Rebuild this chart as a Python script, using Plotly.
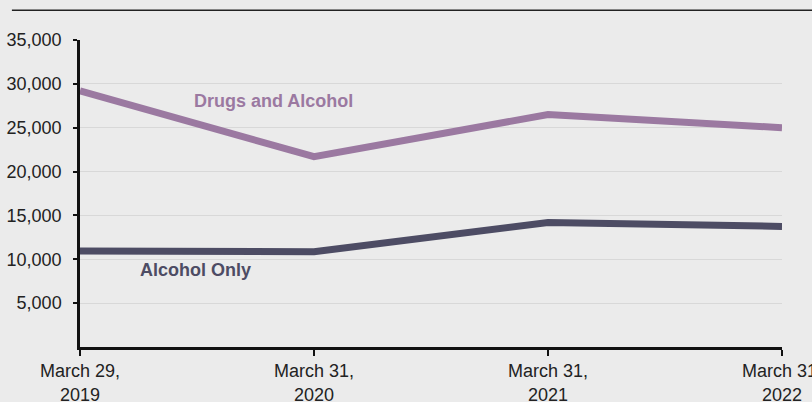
import plotly.graph_objects as go

# Fiscal year-end dates and counts
periods = ["March 29,<br>2019", "March 31,<br>2020", "March 31,<br>2021", "March 31,<br>2022"]
drugs_and_alcohol = [29200, 21700, 26500, 25000]
alcohol_only = [10950, 10850, 14200, 13750]
y_ticks = [5000, 10000, 15000, 20000, 25000, 30000, 35000]

x_idx = list(range(len(periods)))
purple = "#9b79a1"
slate = "#4d4c64"
font_family = "Liberation Sans, Arial, Helvetica"

fig = go.Figure()
fig.add_trace(go.Scatter(x=x_idx, y=drugs_and_alcohol, mode="lines",
                         line=dict(color=purple, width=7), cliponaxis=False,
                         name="Drugs and Alcohol"))
fig.add_trace(go.Scatter(x=x_idx, y=alcohol_only, mode="lines",
                         line=dict(color=slate, width=7), cliponaxis=False,
                         name="Alcohol Only"))

fig.add_annotation(x=0.825, y=28100, text="<b>Drugs and Alcohol</b>", showarrow=False,
                   font=dict(color=purple, size=18, family=font_family))
fig.add_annotation(x=0.495, y=8800, text="<b>Alcohol Only</b>", showarrow=False,
                   font=dict(color=slate, size=18, family=font_family))

# Rule across the top of the panel
fig.add_shape(type="line", xref="paper", yref="paper", x0=-0.097, x1=1.05, y0=1.097, y1=1.097,
              line=dict(color="#222222", width=1.5))

fig.update_layout(
    width=812, height=402,
    margin=dict(l=80, r=30, t=40, b=55, autoexpand=False),
    paper_bgcolor="#ebebeb", plot_bgcolor="#ebebeb",
    showlegend=False,
    font=dict(family=font_family, size=18, color="#222222"),
)
fig.update_xaxes(range=[0, 3], tickvals=x_idx, ticktext=periods, automargin=False,
                 ticklabeloverflow="allow",
                 showline=True, linecolor="#111111", linewidth=2.5,
                 ticks="outside", ticklen=6, tickwidth=2, tickcolor="#111111",
                 showgrid=False, zeroline=False)
fig.update_yaxes(range=[0, 35000], tickvals=y_ticks, automargin=False,
                 ticktext=[f"{v:,}" for v in y_ticks], ticklabelstandoff=8,
                 showline=True, linecolor="#111111", linewidth=2.5,
                 ticks="outside", ticklen=4, tickwidth=2, tickcolor="#111111",
                 showgrid=True, gridcolor="#d8d8d8", gridwidth=1, zeroline=False)

fig.write_html("out.html")
